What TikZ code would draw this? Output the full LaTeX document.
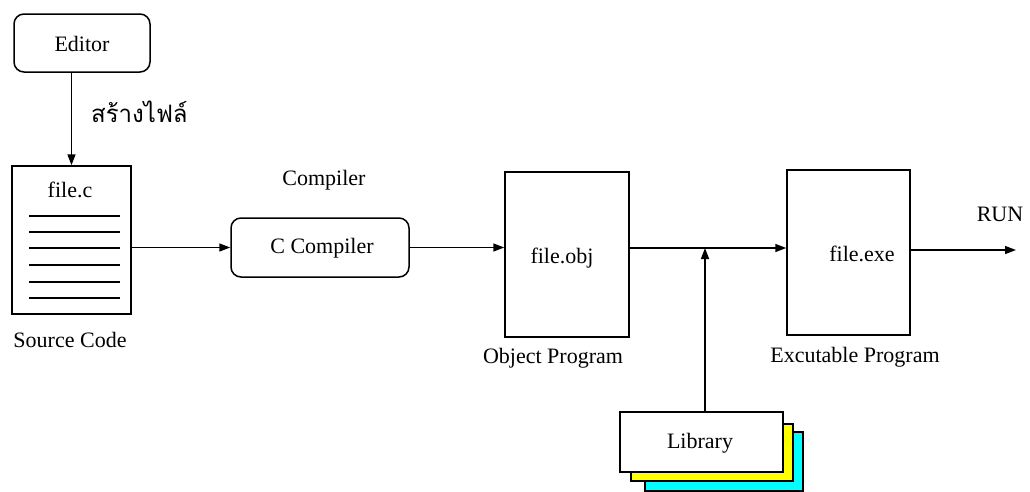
\documentclass[tikz,border=0pt]{standalone}
\usepackage{fontspec}
\setmainfont{Liberation Serif}
\newfontfamily\thaifont[Script=Thai]{Loma}
\usetikzlibrary{arrows.meta}
\definecolor{libyellow}{RGB}{255,255,0}
\definecolor{libcyan}{RGB}{0,255,255}
\tikzset{
  box/.style={draw, line width=1.5pt, fill=white, inner sep=0pt},
  rbox/.style={box, rounded corners=10pt},
  lbl/.style={inner sep=0pt, font=\fontsize{22}{25}\selectfont},
  arr/.style={line width=1.5pt, -{Triangle[length=11pt,width=8pt]}},
  ln/.style={line width=1.5pt}
}
\begin{document}
\begin{tikzpicture}[x=1pt,y=-1pt]
\useasboundingbox[fill=white] (0,0) rectangle (1030,491);

% editor and source file
\node[rbox, minimum width=136pt, minimum height=58pt] (ed) at (82,43) {};
\node[lbl] (edt) at (82,44) {Editor};
\node[lbl, anchor=west] (mk) at (91,112) {\thaifont\fontsize{24}{28}\selectfont สร้างไฟล์};
\node[box, minimum width=119pt, minimum height=148pt] (fc) at (71.5,240) {};
\node[lbl] (fct) at (70,190) {file.c};
\foreach \yy in {216,232,248,265,282,298}
  \draw[ln] (29,\yy) -- (120,\yy);
\node[lbl] (src) at (70,340) {Source Code};

% compiler
\node[lbl] (cmp) at (324,180) {Compiler};
\node[rbox, minimum width=178pt, minimum height=59pt] (cc) at (320,247.5) {};
\node[lbl] (cct) at (322,248) {C Compiler};

% object program
\node[box, minimum width=124pt, minimum height=165pt] (obj) at (567,254.5) {};
\node[lbl] (objt) at (562,258) {file.obj};
\node[lbl] (objl) at (553,358) {Object Program};

% executable program
\node[box, minimum width=123pt, minimum height=165pt] (exe) at (848.5,252.5) {};
\node[lbl] (exet) at (862,254) {file.exe};
\node[lbl] (exel) at (855,357) {Excutable Program};
\node[lbl] (run) at (1000,214) {RUN};
\coordinate (out) at (1016,250);

% library stack
\node[box, fill=libcyan, minimum width=158pt, minimum height=59pt] (lib3) at (724,461.5) {};
\node[box, fill=libyellow, minimum width=162pt, minimum height=57pt] (lib2) at (712,452.5) {};
\node[box, minimum width=163pt, minimum height=60pt] (lib) at (701.5,442) {};
\node[lbl] (libt) at (700,443) {Library};
\coordinate (j) at (705,248);

% connectors
\draw[arr] (fc.north |- ed.south) -- (fc.north);
\draw[arr] (fc.east |- cc.west) -- (cc.west);
\draw[arr] (cc.east) -- (obj.west |- cc.east);
\draw[arr] (obj.east |- j) -- (exe.west |- j);
\draw[arr] (lib.north -| j) -- (j);
\draw[arr] (exe.east |- out) -- (out);
\end{tikzpicture}
\end{document}
